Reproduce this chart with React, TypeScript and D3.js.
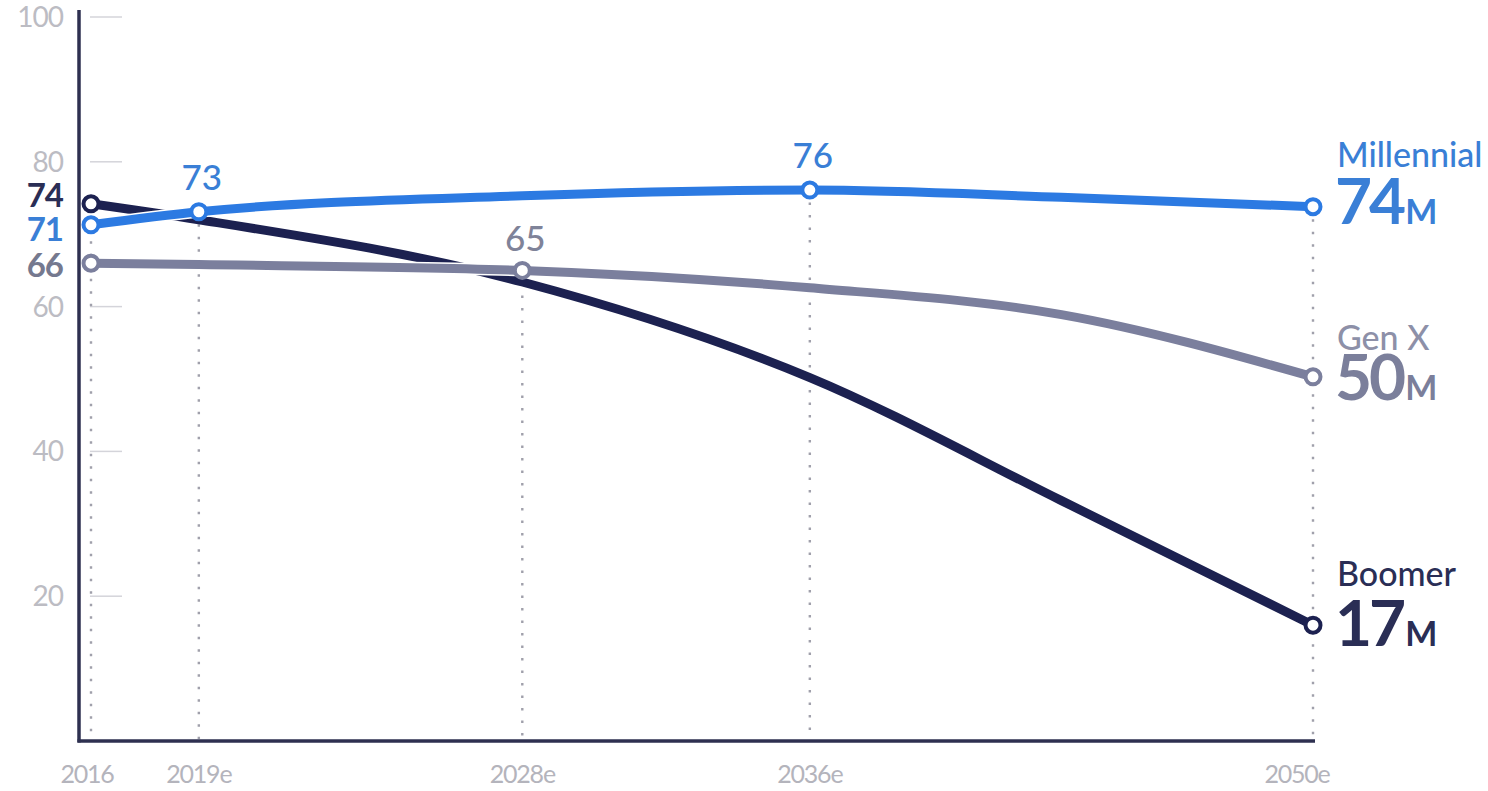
import React from "react";
import * as d3 from "d3";

// ---- data ----
const years = [2016, 2019, 2028, 2036, 2043, 2050];
const millennial = [71.3, 73.1, 75.3, 76.1, 75.1, 73.8];
const genX = [66.0, 65.8, 65.0, 62.6, 58.9, 50.3];
const boomer = [74.2, 72.0, 63.4, 50.2, 33.2, 16.0];

const xTickYears = [2016, 2019, 2028, 2036, 2050];
const xTickLabels = ["2016", "2019e", "2028e", "2036e", "2050e"];
const yTicks = [20, 40, 60, 80, 100];

const seriesNames = ["Boomer", "Gen X", "Millennial"];
const endValues = ["17", "50", "74"];
const startValues = ["74", "66", "71"];
const markerYears = [
  [2016, 2050],
  [2016, 2028, 2050],
  [2016, 2019, 2036, 2050],
];
const annotYears = [[], [2028], [2019, 2036]];
const annotLabels = [[], ["65"], ["73", "76"]];

// ---- styles ----
const W = 1488;
const H = 791;
const colors = ["#1c2150", "#7b7f9d", "#2c7ae2"];
const nameColors = ["#2a2e55", "#8d90a8", "#3a7fd6"];
const font = "Lato, 'Open Sans', sans-serif";

export default function App() {
  const x = d3.scaleLinear().domain([2016, 2050]).range([91, 1313]);
  const y = d3.scaleLinear().domain([0, 100]).range([741, 17]);
  const allSeries = [boomer, genX, millennial];

  const line = d3
    .line<number>()
    .x((_, i) => x(years[i]))
    .y((d) => y(d))
    .curve(d3.curveMonotoneX);

  const valAt = (s: number[], yr: number) => s[years.indexOf(yr)];

  const guideTop = xTickYears.map((yr) => {
    let best = -Infinity;
    allSeries.forEach((s, si) => {
      if (markerYears[si].includes(yr)) best = Math.max(best, valAt(s, yr));
    });
    return best;
  });

  const startDy = [3, 14, 16];
  const nameDy = [-39, -27, -40];
  const numDy = [21, 23, 17];

  return (
    <svg
      width={W}
      height={H}
      style={{ position: "absolute", left: 0, top: 0, background: "#fff" }}
      fontFamily={font}
    >
      {yTicks.map((t) => (
        <g key={t}>
          <line x1={90} x2={122} y1={y(t)} y2={y(t)} stroke="#d4d4da" strokeWidth={1.5} />
          <text
            x={63}
            y={y(t)}
            dy="0.36em"
            textAnchor="end"
            fontSize={28}
            fill="#bcbcc3"
            letterSpacing={-1}
          >
            {t}
          </text>
        </g>
      ))}

      {xTickYears.map((yr, i) => (
        <line
          key={yr}
          x1={x(yr)}
          x2={x(yr)}
          y1={y(guideTop[i])}
          y2={y(0) - 2}
          stroke="#a0a0ab"
          strokeWidth={2.4}
          strokeDasharray="2.5 10"
        />
      ))}

      <line x1={79} x2={79} y1={10} y2={y(0) + 1.5} stroke="#2e3050" strokeWidth={3.5} />
      <line x1={77.5} x2={x(2050) + 2} y1={y(0)} y2={y(0)} stroke="#2e3050" strokeWidth={3.5} />

      {xTickYears.map((yr, i) => (
        <text
          key={yr}
          x={x(yr) - (i === 0 ? 4 : i === 4 ? 16 : 0)}
          y={783}
          textAnchor="middle"
          fontSize={25}
          fill="#b4b4bc"
          letterSpacing={-1.2}
        >
          {xTickLabels[i]}
        </text>
      ))}

      {allSeries.map((s, si) => (
        <g key={si}>
          {si > 0 && (
            <path d={line(s) || ""} fill="none" stroke="#fff" strokeWidth={12} strokeLinecap="round" />
          )}
          <path d={line(s) || ""} fill="none" stroke={colors[si]} strokeWidth={9} strokeLinecap="round" />
        </g>
      ))}

      {allSeries.map((s, si) =>
        markerYears[si].map((yr) => (
          <circle
            key={si + "-" + yr}
            cx={x(yr)}
            cy={y(valAt(s, yr))}
            r={7.5}
            fill="#fff"
            stroke={colors[si]}
            strokeWidth={4}
          />
        ))
      )}

      {allSeries.map((s, si) =>
        annotYears[si].map((yr, k) => (
          <text
            key={si + "a" + yr}
            x={x(yr) + 3}
            y={y(valAt(s, yr)) - (si === 1 ? 19 : 22)}
            textAnchor="middle"
            fontSize={35}
            fontWeight={500}
            fill={si === 1 ? "#7f8399" : nameColors[si]}
          >
            {annotLabels[si][k]}
          </text>
        ))
      )}

      {allSeries.map((s, si) => (
        <text
          key={"s" + si}
          x={63}
          y={y(s[0]) + startDy[si]}
          textAnchor="end"
          fontSize={33}
          fontWeight={700}
          fill={si === 1 ? "#75798f" : nameColors[si]}
          letterSpacing={-1}
        >
          {startValues[si]}
        </text>
      ))}

      {allSeries.map((s, si) => {
        const py = y(s[s.length - 1]);
        const lx = x(2050) + 24;
        return (
          <g key={"e" + si}>
            <text x={lx} y={py + nameDy[si]} fontSize={34} fontWeight={500} fill={nameColors[si]}>
              {seriesNames[si]}
            </text>
            <text x={lx - 2} y={py + numDy[si]} fill={si === 1 ? "#7b7f9b" : nameColors[si]} fontWeight={700}>
              <tspan fontSize={64} letterSpacing={-3}>{endValues[si]}</tspan>
              <tspan fontSize={34} dx={2}>M</tspan>
            </text>
          </g>
        );
      })}
    </svg>
  );
}
